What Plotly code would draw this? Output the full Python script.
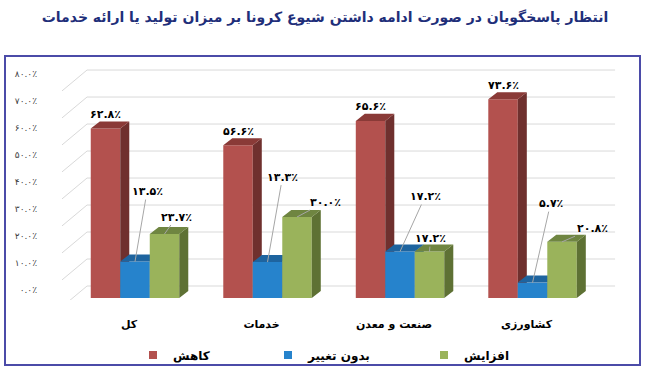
import plotly.graph_objects as go

# ---------------- data ----------------
title_text = "انتظار پاسخگویان در صورت ادامه داشتن شیوع کرونا بر میزان تولید یا ارائه خدمات"
categories = ["کل", "خدمات", "صنعت و معدن", "کشاورزی"]
series_names = ["کاهش", "بدون تغییر", "افزایش"]
decrease = [62.8, 56.6, 65.6, 73.6]
no_change = [13.5, 13.3, 17.2, 5.7]
increase = [23.7, 30.0, 17.2, 20.8]
y_ticks = [0, 10, 20, 30, 40, 50, 60, 70, 80]

FA = str.maketrans("0123456789", "۰۱۲۳۴۵۶۷۸۹")


def fa_pct(v):
    return f"{v:.1f}٪".translate(FA)


# ---------------- style ----------------
FONT = "DejaVu Sans"
front_cols = ["#B3514E", "#2683CC", "#9AB35B"]
side_cols = ["#6F302E", "#1B5A92", "#5E7134"]
top_cols = ["#8A3A37", "#1E649F", "#6F8541"]

W = 0.2226          # bar width in category units
DX, DY = 0.068, 2.6  # 3D depth offsets (x units, y units)
WALL = 4.44          # back wall shift (y units)
X_BACK, X_RIGHT, X_FRONT = -0.362, 3.623, -0.551
Y_RANGE = [-0.74, 88.15]
X_RANGE = [-0.6038, 3.660]

series = [decrease, no_change, increase]
xpos = list(range(len(categories)))

fig = go.Figure()

# back wall gridlines + slanted side-wall connectors (main subplot, drawn first)
gx, gy = [], []
for t in y_ticks:
    gx += [X_FRONT, X_BACK, X_RIGHT, None]
    gy += [t - 3.3, t + WALL, t + WALL, None]
fig.add_trace(go.Scatter(x=gx, y=gy, mode="lines", line=dict(color="#D9D9D9", width=1),
                         hoverinfo="skip", showlegend=False, xaxis="x", yaxis="y"))

# bars: each series on its own overlaid subplot so the drawing order is right
for k, vals in enumerate(series):
    ya = "y" + str(k + 2)
    off = -1.5 * W + k * W
    fig.add_trace(go.Bar(x=xpos, y=vals, width=W, offset=off,
                         marker=dict(color=front_cols[k], line=dict(width=0)),
                         showlegend=False, xaxis="x", yaxis=ya, hoverinfo="skip"))
    sx, sy, tx, ty = [], [], [], []
    for xc, v in zip(xpos, vals):
        xl = xc + off
        xr = xl + W
        sx += [xr, xr + DX, xr + DX, xr, None]
        sy += [0, DY, v + DY, v, None]
        tx += [xl, xl + DX, xr + DX, xr, None]
        ty += [v, v + DY, v + DY, v, None]
    fig.add_trace(go.Scatter(x=sx, y=sy, fill="toself", fillcolor=side_cols[k], mode="none",
                             showlegend=False, hoverinfo="skip", xaxis="x", yaxis=ya))
    fig.add_trace(go.Scatter(x=tx, y=ty, fill="toself", fillcolor=top_cols[k], mode="none",
                             showlegend=False, hoverinfo="skip", xaxis="x", yaxis=ya))

# legend-only entries (small squares), each in its own legend
legend_names = ["legend", "legend2", "legend3"]
for k, name in enumerate(series_names):
    fig.add_trace(go.Scatter(x=[None], y=[None], mode="markers", name=name,
                             marker=dict(symbol="square", size=8, color=front_cols[k]),
                             legend=legend_names[k], xaxis="x", yaxis="y"))

# data labels
lab_font = dict(family=FONT, size=11, color="black", weight="bold")
annotations = []
# decrease labels: above bars
for xc, v in zip(xpos, decrease):
    annotations.append(dict(x=xc - W, y=v, xref="x", yref="y2", text=fa_pct(v),
                            showarrow=False, yshift=14, font=lab_font))
# no-change labels with leader lines
nc_off = [(12, -70), (15, -85), (25, -55), (18, -79)]
for xc, v, (ax, ay) in zip(xpos, no_change, nc_off):
    annotations.append(dict(x=xc, y=v, xref="x", yref="y3", text=fa_pct(v),
                            showarrow=True, arrowhead=0, arrowwidth=1, arrowcolor="#A6A6A6",
                            ax=ax, ay=ay, standoff=0, font=lab_font))
# increase labels
inc_off = [(12, -17), (28, -15), (1, -13), (30, -13)]
for xc, v, (ax, ay) in zip(xpos, increase, inc_off):
    annotations.append(dict(x=xc + W, y=v, xref="x", yref="y4", text=fa_pct(v),
                            showarrow=True, arrowhead=0, arrowwidth=1, arrowcolor="#A6A6A6",
                            ax=ax, ay=ay, standoff=0, font=lab_font))

hidden_y = dict(range=Y_RANGE, overlaying="y", anchor="x", visible=False, showgrid=False,
                zeroline=False)

leg_font = dict(family=FONT, size=12, color="black", weight="bold")
LEG_Y = (300 - 355) / 240

fig.update_layout(
    width=650, height=368,
    margin=dict(l=55, r=30, t=60, b=68, autoexpand=False),
    paper_bgcolor="white", plot_bgcolor="rgba(0,0,0,0)",
    font=dict(family=FONT),
    title=dict(text=title_text, x=0.5, xanchor="center", y=1 - 17 / 368, yanchor="middle",
               font=dict(family=FONT, size=14, color="#1F2F7A", weight="bold")),
    xaxis=dict(range=X_RANGE, tickvals=xpos, ticktext=categories, showgrid=False,
               zeroline=False, showline=False, ticks="", ticklabelstandoff=16,
               ticklabelshift=-6,
               tickfont=dict(family=FONT, size=11, color="black", weight="bold")),
    yaxis=dict(range=Y_RANGE, tickvals=y_ticks, ticktext=[fa_pct(t) for t in y_ticks],
               showgrid=False, zeroline=False, showline=False, ticks="",
               ticklabelstandoff=17, ticklabelshift=-8,
               tickfont=dict(family=FONT, size=9, color="#404040")),
    yaxis2=hidden_y, yaxis3=hidden_y, yaxis4=hidden_y,
    annotations=annotations,
    showlegend=True,
    legend=dict(x=(133 - 55) / 565, y=LEG_Y, xanchor="left", yanchor="middle",
                font=leg_font, bgcolor="rgba(0,0,0,0)", itemwidth=30),
    legend2=dict(x=(268 - 55) / 565, y=LEG_Y, xanchor="left", yanchor="middle",
                 font=leg_font, bgcolor="rgba(0,0,0,0)", itemwidth=30),
    legend3=dict(x=(424 - 55) / 565, y=LEG_Y, xanchor="left", yanchor="middle",
                 font=leg_font, bgcolor="rgba(0,0,0,0)", itemwidth=30),
    shapes=[dict(type="rect", xref="paper", yref="paper",
                 x0=(5 - 55) / 565, x1=(640 - 55) / 565,
                 y0=(300 - 365) / 240, y1=(300 - 56) / 240,
                 line=dict(color="#4B4BA8", width=2), fillcolor="rgba(0,0,0,0)", layer="below")],
)

fig.write_html("out.html", config={"displayModeBar": False},
               post_script="document.body.style.margin='0';")
